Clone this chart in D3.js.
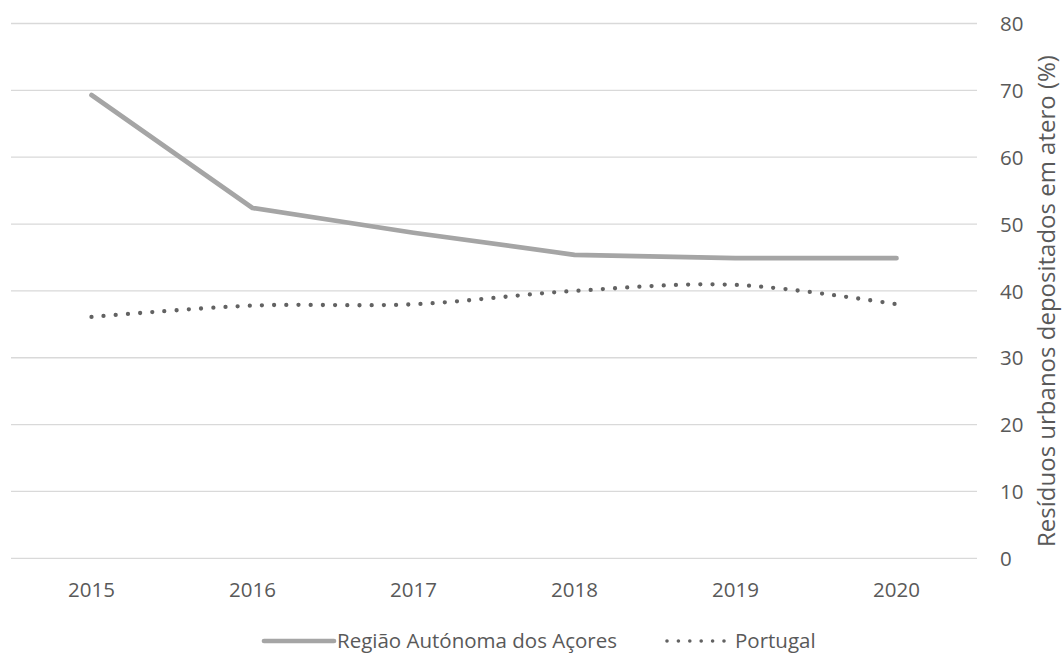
<!DOCTYPE html>
<html>
<head>
<meta charset="utf-8">
<script src="https://cdn.jsdelivr.net/npm/d3@7"></script>
<style>
  html, body { margin: 0; padding: 0; background: #fff; }
  svg { display: block; font-family: "Open Sans", "Noto Sans", sans-serif; }
</style>
</head>
<body>
<svg id="chart" width="1062" height="653"></svg>
<script>
// Aterro share of urban waste, 2015–2020
const years = ["2015", "2016", "2017", "2018", "2019", "2020"];
const acores = [69.3, 52.4, 48.7, 45.4, 44.9, 44.9];
const portugal = [36.1, 37.8, 38.0, 40.0, 40.9, 38.0];
const yTicks = [0, 10, 20, 30, 40, 50, 60, 70, 80];
const seriesNames = ["Região Autónoma dos Açores", "Portugal"];
const yTitle = "Resíduos urbanos depositados em atero (%)";

const svg = d3.select("#chart");
const plot = { left: 11, right: 977, top: 23.5, bottom: 558.3 };
const textColor = "#595959";

const x = d3.scaleBand().domain(years).range([plot.left, plot.right]).padding(0);
const y = d3.scaleLinear().domain([0, 80]).range([plot.bottom, plot.top]);
const cx = d => x(d) + x.bandwidth() / 2;

// horizontal gridlines
svg.append("g")
  .selectAll("line")
  .data(yTicks)
  .join("line")
  .attr("x1", plot.left).attr("x2", plot.right)
  .attr("y1", d => y(d)).attr("y2", d => y(d))
  .attr("stroke", "#d9d9d9").attr("stroke-width", 1.3);

// right-hand value axis
const yAxis = d3.axisRight(y).tickValues(yTicks).tickSize(0).tickPadding(0);
const gy = svg.append("g").attr("transform", "translate(1000,0)").call(yAxis);
gy.select(".domain").remove();
gy.selectAll("text")
  .attr("fill", textColor).attr("font-size", 20.5)
  .attr("font-family", "Open Sans, sans-serif")
  .attr("text-anchor", "start").attr("dy", "0.35em");

// category axis
const xAxis = d3.axisBottom(x).tickSize(0).tickPadding(0);
const gx = svg.append("g").attr("transform", "translate(0,590)").call(xAxis);
gx.select(".domain").remove();
gx.selectAll("text")
  .attr("fill", textColor).attr("font-size", 20.5)
  .attr("font-family", "Open Sans, sans-serif")
  .attr("dy", "0.35em");

// axis title
svg.append("text")
  .attr("transform", "translate(1047,301) rotate(-90)")
  .attr("text-anchor", "middle").attr("dy", "0.35em")
  .attr("fill", textColor).attr("font-size", 24)
  .text(yTitle);

// series lines
const lineA = d3.line().x((d, i) => cx(years[i])).y(d => y(d));
const lineP = d3.line().x((d, i) => cx(years[i])).y(d => y(d)).curve(d3.curveCatmullRom.alpha(0));

svg.append("path")
  .datum(acores)
  .attr("d", lineA)
  .attr("fill", "none").attr("stroke", "#a5a5a5")
  .attr("stroke-width", 4.7).attr("stroke-linecap", "round").attr("stroke-linejoin", "round");

svg.append("path")
  .datum(portugal)
  .attr("d", lineP)
  .attr("fill", "none").attr("stroke", "#626262")
  .attr("stroke-width", 4.3).attr("stroke-linecap", "round")
  .attr("stroke-dasharray", "0 12.2");

// legend
const lg = svg.append("g").attr("transform", "translate(0,641)");
lg.append("line").attr("x1", 264).attr("x2", 334).attr("y1", 0).attr("y2", 0)
  .attr("stroke", "#a5a5a5").attr("stroke-width", 4.7).attr("stroke-linecap", "round");
lg.append("text").attr("x", 337).attr("y", 0).attr("dy", "0.35em")
  .attr("fill", textColor).attr("font-size", 20.5).text(seriesNames[0]);
lg.append("line").attr("x1", 667).attr("x2", 724).attr("y1", 0).attr("y2", 0)
  .attr("stroke", "#626262").attr("stroke-width", 3.6).attr("stroke-linecap", "round")
  .attr("stroke-dasharray", "0 11.4");
lg.append("text").attr("x", 735).attr("y", 0).attr("dy", "0.35em")
  .attr("fill", textColor).attr("font-size", 20.5).text(seriesNames[1]);
</script>
</body>
</html>
